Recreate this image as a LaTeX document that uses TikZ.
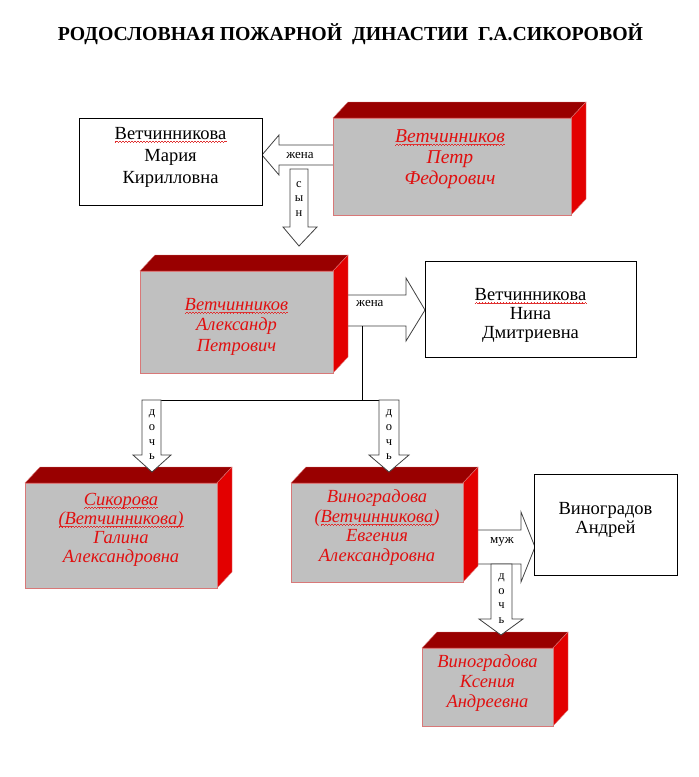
\documentclass[tikz,border=0pt]{standalone}
\usepackage{fontspec}
\setmainfont{Liberation Serif}
\usetikzlibrary{calc}
\definecolor{facegrey}{HTML}{C0C0C0}
\definecolor{edgepink}{HTML}{D87878}
\definecolor{topred}{HTML}{990000}
\definecolor{sidered}{HTML}{E30000}
\definecolor{txtred}{HTML}{E01010}
\definecolor{wavecol}{HTML}{E03030}
\definecolor{arrowedge}{HTML}{404040}
\newbox\spwbox
\newcommand\spellwave[1]{\setbox\spwbox=\hbox{#1}\rlap{\color{wavecol}\hbox to \wd\spwbox{\xleaders\hbox{\rule[-3.4pt]{0.75pt}{0.7pt}\rule[-2.8pt]{0.75pt}{0.7pt}\rule[-2.2pt]{0.75pt}{0.7pt}\rule[-2.8pt]{0.75pt}{0.7pt}}\hfill}}#1}
\tikzset{
  frontface/.style={draw=edgepink, fill=facegrey, line width=0.8pt, inner sep=0pt, anchor=north west},
  topface/.style={fill=topred, draw=edgepink, line width=0.4pt},
  sideface/.style={fill=sidered, draw=edgepink, line width=0.4pt},
  whitebox/.style={draw=black, fill=white, line width=0.9pt, inner sep=0pt, anchor=north west},
  blockarrow/.style={draw=arrowedge, fill=white, line width=0.8pt, line join=miter},
  conn/.style={draw=black, line width=0.9pt},
  boxtext/.style={align=center, text=txtred, inner sep=0pt, anchor=base, font=\fontsize{18.5}{21}\selectfont\itshape},
  blacktext/.style={align=center, text=black, inner sep=0pt, anchor=base, font=\fontsize{18.5}{22}\selectfont},
  lbl/.style={inner sep=0pt, font=\fontsize{13}{15}\selectfont},
  vlbl/.style={align=center, inner sep=0pt, font=\fontsize{12.5}{14.7}\selectfont},
  titletext/.style={inner sep=0pt, anchor=base, font=\fontsize{19.8}{22}\selectfont\bfseries},
}
% #1 name, #2 x1, #3 y1, #4 x2, #5 y2
\newcommand\cubebox[5]{%
  \path[topface] (#2,#3) -- ({#2+15},{#3-16}) -- ({#4+15},{#3-16}) -- (#4,#3) -- cycle;
  \path[sideface] (#4,#3) -- ({#4+15},{#3-16}) -- ({#4+15},{#5-16}) -- (#4,#5) -- cycle;
  \node[frontface, minimum width={(#4-#2)*1pt}, minimum height={(#5-#3)*1pt}] (#1) at (#2,#3) {};
}
\begin{document}
\begin{tikzpicture}[x=1pt,y=-1pt]
\useasboundingbox (0,0) rectangle (699,777);

% title
\node[titletext] (title) at (350.5,40) {РОДОСЛОВНАЯ ПОЖАРНОЙ\ \ ДИНАСТИИ\ \ Г.А.СИКОРОВОЙ};

% arrows lying under boxes
\draw[blockarrow] (340,145) -- (279,145) -- (279,135) -- (262,155) -- (279,175) -- (279,165) -- (340,165) -- cycle;
\draw[blockarrow] (340,295) -- (406,295) -- (406,278) -- (425,310) -- (406,341) -- (406,326) -- (340,326) -- cycle;
\draw[blockarrow] (470,530) -- (521,530) -- (521,512) -- (535,547) -- (521,582) -- (521,564) -- (470,564) -- cycle;

% white boxes
\node[whitebox, minimum width=183pt, minimum height=87pt] (w1) at (79,118) {};
\node[whitebox, minimum width=211pt, minimum height=96pt] (w2) at (425,261) {};
\node[whitebox, minimum width=143pt, minimum height=101pt] (w3) at (534,474) {};

\node[blacktext] (w1t) at (170.5,183) {\spellwave{Ветчинникова}\\Мария\\Кирилловна};
\node[blacktext, font=\fontsize{18.5}{18.7}\selectfont] (w2t) at (530.5,338) {\spellwave{Ветчинникова}\\Нина\\Дмитриевна};
\node[blacktext, font=\fontsize{18.5}{18.5}\selectfont] (w3t) at (605.5,533) {Виноградов\\Андрей};

% 3D boxes
\cubebox{b1}{333}{118}{571}{215}
\cubebox{b2}{140}{271}{333}{373}
\cubebox{b3}{25}{483}{217}{588}
\cubebox{b4}{291}{483}{463}{582}
\cubebox{b5}{422}{648}{553}{726}

\node[boxtext, font=\fontsize{19.6}{21}\selectfont\itshape] (b1t) at (450,184) {\spellwave{Ветчинников}\\Петр\\Федорович};
\node[boxtext, font=\fontsize{18.5}{20.5}\selectfont\itshape] (b2t) at (236.5,351) {\spellwave{Ветчинников}\\Александр\\Петрович};
\node[boxtext, font=\fontsize{18.5}{19}\selectfont\itshape] (b3t) at (121,562) {\spellwave{Сикорова}\\\spellwave{(Ветчинникова)}\\Галина\\Александровна};
\node[boxtext, font=\fontsize{18.5}{19.5}\selectfont\itshape] (b4t) at (377,561) {Виноградова\\(\spellwave{Ветчинникова})\\Евгения\\Александровна};
\node[boxtext, font=\fontsize{18.5}{20}\selectfont\itshape] (b5t) at (487.5,707) {Виноградова\\Ксения\\Андреевна};

% arrow labels
\node[lbl] (l1) at (300,155) {жена};
\node[lbl, anchor=west] (l3) at (356,303) {жена};
\node[lbl] (l5) at (502,542) {муж};

% son arrow
\draw[blockarrow] (290,169) -- (308,169) -- (308,227) -- (317,227) -- (299,246) -- (283,227) -- (290,227) -- cycle;
\node[vlbl] (l2) at (299,199) {с\\ы\\н};

% fork connector
\coordinate (a3bot) at (362,326);
\coordinate (fork) at (362,400);
\coordinate (forkL) at (142,400);
\coordinate (forkR) at (399,400);
\draw[conn] (a3bot) -- (fork);
\draw[conn] (forkL) -- (forkR);

% daughter arrows
\draw[blockarrow] (142,400) -- (161,400) -- (161,455) -- (171,455) -- (152,472) -- (133,455) -- (142,455) -- cycle;
\node[vlbl] (l4) at (152,435) {д\\о\\ч\\ь};
\draw[blockarrow] (379,400) -- (399,400) -- (399,455) -- (409,455) -- (389,472) -- (369,455) -- (379,455) -- cycle;
\node[vlbl] (l6) at (389,435) {д\\о\\ч\\ь};
\draw[blockarrow] (491,564) -- (512,564) -- (512,619) -- (523,619) -- (501,635) -- (479,619) -- (491,619) -- cycle;
\node[vlbl] (l7) at (501.5,598.5) {д\\о\\ч\\ь};
\end{tikzpicture}
\end{document}
